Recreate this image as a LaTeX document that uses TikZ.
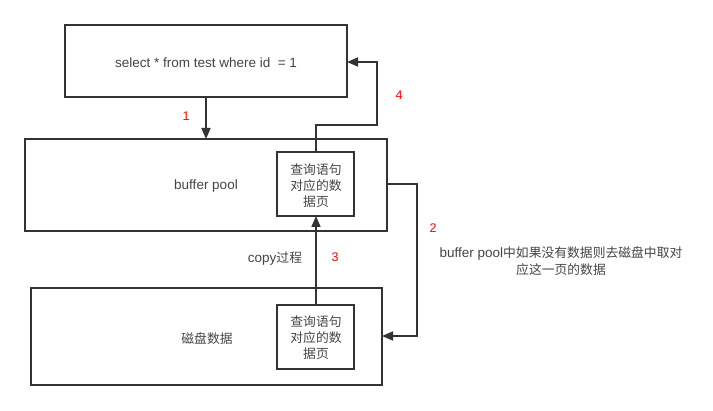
\documentclass[tikz,border=0pt]{standalone}
\usepackage{fontspec}
\setmainfont{Liberation Sans}
\newfontfamily\cjk{Noto Sans CJK SC}
\usetikzlibrary{arrows.meta}
\definecolor{ln}{HTML}{333333}
\definecolor{txt}{HTML}{444444}
\newcommand{\zh}[1]{{\cjk\fontsize{12.8}{16.5}\selectfont #1}}
\begin{document}
\begin{tikzpicture}[x=1pt,y=-1pt,
  box/.style={draw=ln,line width=2pt},
  inner/.style={draw=ln,line width=2pt},
  conn/.style={draw=ln,line width=1.6pt,-{Triangle[length=11pt,width=9pt]}},
  lbl/.style={text=txt,font=\fontsize{13.5}{16.5}\selectfont,inner sep=0pt},
  pg/.style={text=txt,font=\cjk\fontsize{12.8}{16}\selectfont,inner sep=0pt,align=center},
  num/.style={text=red,font=\fontsize{12.5}{15}\selectfont,inner sep=0pt}]
\useasboundingbox (0,0) rectangle (713,411);
% boxes
\draw[box] (65,25) rectangle (347,97);
\node[lbl] (sel) at (206,63) {select * from test where id\ \ = 1};
\coordinate (topR) at (347,62);
\coordinate (topB) at (206,97);

\draw[box] (25,139) rectangle (387,231);
\node[lbl] (bp) at (206,186) {buffer pool};
\coordinate (bpT) at (206,139);
\coordinate (bpR) at (387,184);

\draw[inner] (277,152) rectangle (354,216);
\node[pg] (pg1) at (316,185.5) {查询语句\\对应的数\\据页};
\coordinate (pg1T) at (316,152);
\coordinate (pg1B) at (316,216);

\draw[box] (31,288) rectangle (382,385);
\node[lbl] (disk) at (207,339) {\zh{磁盘数据}};
\coordinate (diskR) at (382,336);

\draw[inner] (277,305) rectangle (354,369);
\node[pg] (pg2) at (316,338) {查询语句\\对应的数\\据页};
\coordinate (pg2T) at (316,305);

% connectors
\draw[conn] (topB) -- (bpT);
\draw[conn] (pg1T) -- (316,125) -- (377,125) -- (377,62) -- (topR);
\draw[conn] (bpR) -- (417,184) -- (417,336) -- (diskR);
\draw[conn] (pg2T) -- (pg1B);

% labels
\node[num] (n1) at (186,116) {1};
\node[num] (n4) at (399,95) {4};
\node[num] (n2) at (433,228) {2};
\node[num] (n3) at (335,257) {3};
\node[lbl] (cp) at (275,259) {copy\zh{过程}};
\node[lbl,align=center] (note) at (561,261) {buffer pool\zh{中如果没有数据则去磁盘中取对}\\\zh{应这一页的数据}};
\end{tikzpicture}
\end{document}
